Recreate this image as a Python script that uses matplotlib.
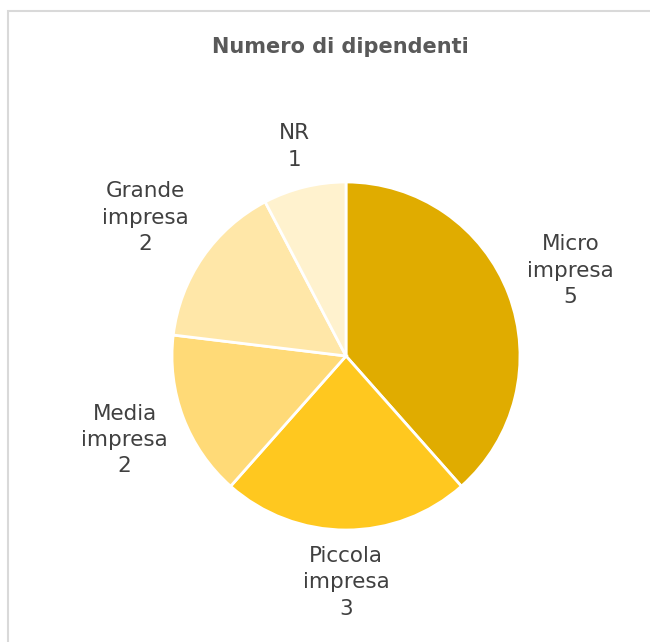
import numpy as np
import matplotlib.pyplot as plt
from matplotlib.patches import Rectangle

# Company size breakdown
categories = ['Micro\nimpresa', 'Piccola\nimpresa', 'Media\nimpresa', 'Grande\nimpresa', 'NR']
counts = [5, 3, 2, 2, 1]
colors = ['#E0AC00', '#FFC81F', '#FFDA77', '#FFE7A8', '#FFF2CE']
label_dist = [1.38, 1.30, 1.36, 1.40, 1.24]

W, H = 650, 642
fig = plt.figure(figsize=(W / 100, H / 100), dpi=100)
fig.patch.set_facecolor('white')

# light frame around the chart area
fig.patches.append(Rectangle((8 / W, -0.1), 1.2, (H - 11) / H + 0.1, transform=fig.transFigure,
                             fill=False, edgecolor='#D9D9D9', linewidth=1.5))

cx, cy, r = 346, 356, 174
ax = fig.add_axes([(cx - r) / W, (H - cy - r) / H, 2 * r / W, 2 * r / H])
wedges, _ = ax.pie(counts, colors=colors, startangle=90, counterclock=False, radius=1,
                   wedgeprops=dict(edgecolor='white', linewidth=2))
ax.set_xlim(-1, 1)
ax.set_ylim(-1, 1)
ax.set_aspect('equal')
ax.axis('off')

for w, lab, n, d in zip(wedges, categories, counts, label_dist):
    ang = np.deg2rad((w.theta1 + w.theta2) / 2)
    ax.text(d * np.cos(ang), d * np.sin(ang), f'{lab}\n{n}', ha='center', va='center',
            fontsize=15.5, color='#404040', linespacing=1.4, clip_on=False)

fig.text(340 / W, 1 - 47 / H, 'Numero di dipendenti', ha='center', va='center',
         fontsize=15, fontweight='bold', color='#595959')

fig.savefig('out.png', dpi=100)
